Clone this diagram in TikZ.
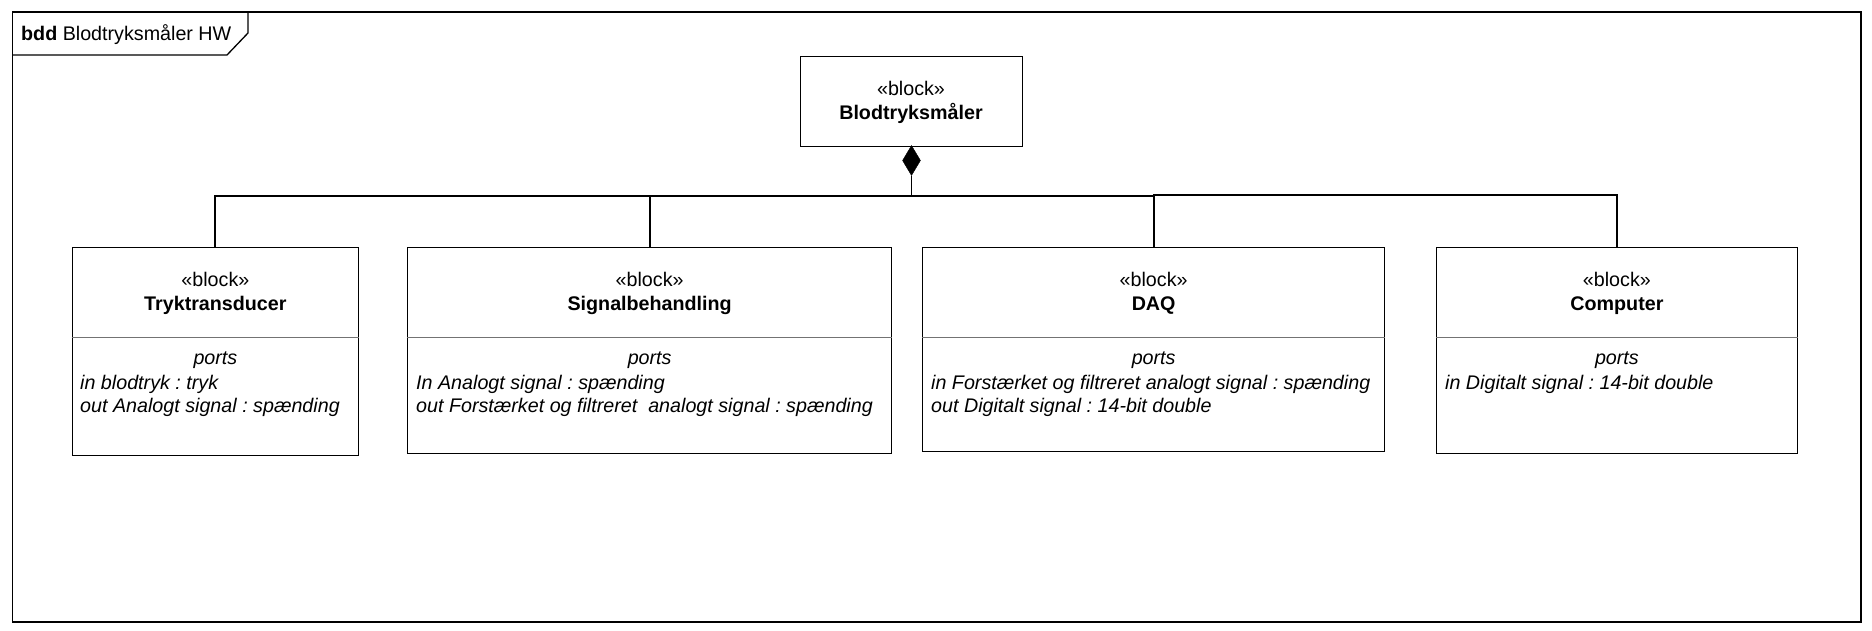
\documentclass[tikz,border=0pt]{standalone}
\usepackage{fontspec}
\setmainfont{Liberation Sans}
\usetikzlibrary{shapes.geometric}
\frenchspacing
\tikzset{
  blk/.style={draw, line width=1.3pt, rectangle, inner sep=0, anchor=north west},
  frm/.style={draw, line width=1.3pt},
  conn/.style={line width=2pt},
  thin/.style={line width=1.1pt},
  div/.style={line width=1pt, draw=black!55},
  txt/.style={inner sep=0, text height=14pt, text depth=4pt, font=\fontsize{19.7}{24}\selectfont},
  ttl/.style={txt, font=\fontsize{19.7}{24}\selectfont\bfseries},
  itl/.style={txt, font=\fontsize{19.7}{24}\selectfont\itshape},
  comp/.style={diamond, fill=black, draw=black, inner sep=0, minimum width=18pt, minimum height=30pt, aspect=0.6}
}
\begin{document}
\begin{tikzpicture}[x=1pt,y=-1pt]
\useasboundingbox (0,0) rectangle (1872,630);
% frame
\draw[frm] (12.5,12) rectangle (1861,622);
\draw[frm] (12.5,55) -- (227,55) -- (248,33) -- (248,12);
\node[txt, anchor=west] (title) at (21,35) {\textbf{bdd} Blodtryksmåler HW};

% top block
\node[blk, minimum width=222pt, minimum height=90pt] (top) at (800,56) {};
\node[txt] (topst) at (911,90.5) {«block»};
\node[ttl] (topnm) at (911,114.5) {Blodtryksmåler};

% child blocks
\node[blk, minimum width=286.5pt, minimum height=208pt] (tt) at (71.5,247) {};
\node[blk, minimum width=484pt, minimum height=205.5pt] (sb) at (407,247) {};
\node[blk, minimum width=462pt, minimum height=204pt] (daq) at (922,247) {};
\node[blk, minimum width=360.5pt, minimum height=205.5pt] (cp) at (1436,247) {};

% dividers
\draw[div] (tt.west |- 0,337) -- (tt.east |- 0,337);
\draw[div] (sb.west |- 0,337) -- (sb.east |- 0,337);
\draw[div] (daq.west |- 0,337) -- (daq.east |- 0,337);
\draw[div] (cp.west |- 0,337) -- (cp.east |- 0,337);

% Tryktransducer
\node[txt] (ttst) at (tt.north |- 0,281.5) {«block»};
\node[ttl] (ttnm) at (tt.north |- 0,305.5) {Tryktransducer};
\node[itl] (ttpo) at (tt.north |- 0,359.5) {ports};
\node[itl, anchor=west] (ttp1) at (80,384) {in blodtryk : tryk};
\node[itl, anchor=west] (ttp2) at (80,407.5) {out Analogt signal : spænding};

% Signalbehandling
\node[txt] (sbst) at (sb.north |- 0,281.5) {«block»};
\node[ttl] (sbnm) at (sb.north |- 0,305.5) {Signalbehandling};
\node[itl] (sbpo) at (sb.north |- 0,359.5) {ports};
\node[itl, anchor=west] (sbp1) at (416,384) {In Analogt signal : spænding};
\node[itl, anchor=west] (sbp2) at (416,407.5) {out Forstærket og filtreret\ \ analogt signal : spænding};

% DAQ
\node[txt] (daqst) at (daq.north |- 0,281.5) {«block»};
\node[ttl] (daqnm) at (daq.north |- 0,305.5) {DAQ};
\node[itl] (daqpo) at (daq.north |- 0,359.5) {ports};
\node[itl, anchor=west] (daqp1) at (931,384) {in Forstærket og filtreret analogt signal : spænding};
\node[itl, anchor=west] (daqp2) at (931,407.5) {out Digitalt signal : 14-bit double};

% Computer
\node[txt] (cpst) at (cp.north |- 0,281.5) {«block»};
\node[ttl] (cpnm) at (cp.north |- 0,305.5) {Computer};
\node[itl] (cppo) at (cp.north |- 0,359.5) {ports};
\node[itl, anchor=west] (cpp1) at (1445,384) {in Digitalt signal : 14-bit double};

% composition
\node[comp] (dia) at (911.5,160.5) {};
\coordinate (bus) at (911.5,196);
\coordinate (busR) at (1153,195);
\draw[thin] (dia.south) -- (bus);
\draw[conn] (tt.north) |- (bus) -| (daq.north);
\draw[conn] (sb.north) -- (sb.north |- bus);
\draw[conn] (busR) -| (cp.north);
\end{tikzpicture}
\end{document}
